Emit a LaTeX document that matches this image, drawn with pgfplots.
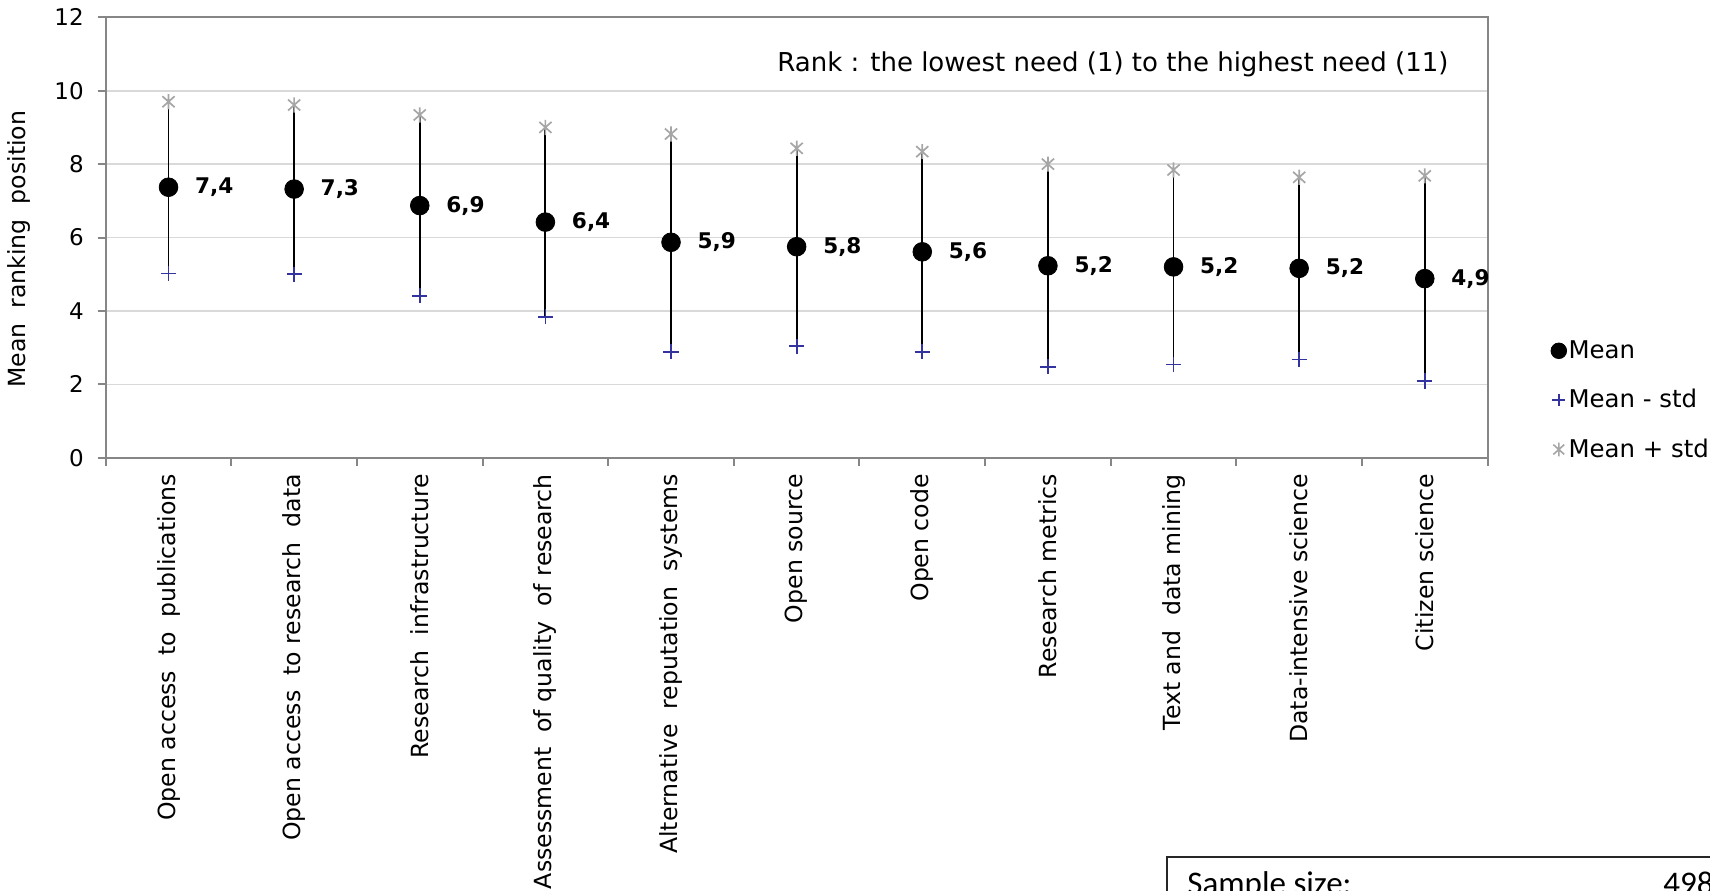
\documentclass[border=0pt]{standalone}
\usepackage{fontspec}
\setmainfont{DejaVu Sans}
\newfontfamily\carlito{Carlito}
\usepackage{pgfplots}
\usepackage{pgfplotstable}
\pgfplotsset{compat=1.18}
\definecolor{axgray}{RGB}{134,134,134}
\definecolor{gridgray}{RGB}{217,217,217}
\definecolor{minusblue}{RGB}{51,51,160}
\definecolor{plusgray}{RGB}{166,166,166}
\newcommand{\dsp}{\ \ }
\pgfdeclareplotmark{xbar}{%
  \pgfpathmoveto{\pgfqpoint{0pt}{\pgfplotmarksize}}%
  \pgfpathlineto{\pgfqpoint{0pt}{-\pgfplotmarksize}}%
  \pgfpathmoveto{\pgfqpoint{-0.8\pgfplotmarksize}{0.72\pgfplotmarksize}}%
  \pgfpathlineto{\pgfqpoint{0.8\pgfplotmarksize}{-0.72\pgfplotmarksize}}%
  \pgfpathmoveto{\pgfqpoint{-0.8\pgfplotmarksize}{-0.72\pgfplotmarksize}}%
  \pgfpathlineto{\pgfqpoint{0.8\pgfplotmarksize}{0.72\pgfplotmarksize}}%
  \pgfusepathqstroke}
\begin{document}
\begin{tikzpicture}
\pgfplotstableread{
x mean lo hi label
0 7.37 5.02 9.70 {7,4}
1 7.32 5.00 9.61 {7,3}
2 6.87 4.41 9.34 {6,9}
3 6.42 3.84 9.00 {6,4}
4 5.87 2.89 8.82 {5,9}
5 5.75 3.04 8.43 {5,8}
6 5.61 2.89 8.34 {5,6}
7 5.23 2.48 8.00 {5,2}
8 5.20 2.54 7.84 {5,2}
9 5.16 2.68 7.64 {5,2}
10 4.88 2.09 7.68 {4,9}
}\data
\path[use as bounding box] (0,0) rectangle (855pt,-445pt);
\begin{axis}[
  at={(52.85pt,-228.85pt)}, anchor=south west,
  scale only axis, width=690.95pt, height=220.2pt,
  xmin=-0.5, xmax=10.5, ymin=0, ymax=12,
  ytick={0,2,...,12},
  xtick={0,...,10},
  xticklabels={
    Open access\dsp to\dsp publications,
    Open access\dsp to research\dsp data,
    Research\dsp infrastructure,
    Assessment\dsp of quality\dsp of research,
    Alternative\dsp reputation\dsp systems,
    Open source,
    Open code,
    Research metrics,
    Text and\dsp data mining,
    Data-intensive science,
    Citizen science},
  minor xtick={-0.5,0.5,...,10.5},
  tick pos=left,
  major x tick style={draw=none},
  minor x tick style={axgray, line width=1pt},
  minor tick length=4pt,
  major tick length=4pt,
  tick align=outside,
  y tick style={axgray, line width=1pt},
  ymajorgrids, grid style={gridgray, line width=0.8pt},
  axis line style={axgray, line width=1pt},
  /pgf/number format/assume math mode=true,
  yticklabel style={font=\fontsize{11.5pt}{13pt}\selectfont, inner sep=0pt, anchor=east, xshift=-6.8pt},
  xticklabel style={rotate=90, anchor=east, inner sep=0pt, font=\fontsize{11.8pt}{14pt}\selectfont},
  xticklabel shift=4pt,
  ylabel={Mean\dsp ranking\dsp position},
  every axis y label/.style={at={(axis description cs:-0.0631,0.4734)}, rotate=90, anchor=center, font=\fontsize{11.8pt}{14pt}\selectfont},
  clip=false,
  legend style={at={(axis description cs:1.0456,0.2718)}, anchor=north west, draw=none, fill=none,
    font=\fontsize{12.2pt}{15pt}\selectfont, row sep=12pt, inner sep=0pt,
    nodes={inner sep=1pt}},
  legend cell align=left,
  legend image code/.code={\draw[mark repeat=2,mark phase=2,#1] plot coordinates {(-5pt,0pt) (0pt,0pt) (6.2pt,0pt)};},
]
\addplot[forget plot, draw=none, mark=none,
  error bars/.cd, y dir=both, y explicit, error mark=none,
  error bar style={draw=black, line width=0.9pt, solid}]
  table[x=x, y=mean, y error plus expr=\thisrow{hi}-\thisrow{mean}, y error minus expr=\thisrow{mean}-\thisrow{lo}] {\data};
\addplot[forget plot, only marks, mark=*, mark size=4.67pt, black,
  nodes near coords, point meta=explicit symbolic,
  nodes near coords style={anchor=west, xshift=13.1pt, inner sep=0pt, black, font=\bfseries\fontsize{10.8pt}{12pt}\selectfont}]
  table[x=x, y=mean, meta=label] {\data};
\addplot[forget plot, only marks, mark=+, mark size=3.8pt, minusblue, line width=0.85pt]
  table[x=x, y=lo] {\data};
\addplot[forget plot, only marks, mark=xbar, mark size=3.8pt, plusgray, line width=0.85pt]
  table[x=x, y=hi] {\data};
\addlegendimage{only marks, mark=*, mark size=3.9pt, black}
\addlegendentry{Mean}
\addlegendimage{only marks, mark=+, mark size=3.2pt, minusblue, line width=0.8pt}
\addlegendentry{Mean - std}
\addlegendimage{only marks, mark=xbar, mark size=3.4pt, plusgray, line width=0.8pt}
\addlegendentry{Mean + std}
\node[font=\fontsize{13pt}{15pt}\selectfont] at (axis description cs:0.7289,0.8935) {Rank : the lowest need (1) to the highest need (11)};
\end{axis}
\draw[black!85, line width=1pt] (583.5pt,-428.5pt) rectangle (900pt,-480pt);
\node[anchor=base west, inner sep=0pt, font=\carlito\fontsize{16.5pt}{18pt}\selectfont] at (593.5pt,-447pt) {Sample size:};
\node[anchor=base east, inner sep=0pt, font=\carlito\fontsize{16.5pt}{18pt}\selectfont] at (857pt,-447pt) {498};
\end{tikzpicture}
\end{document}
